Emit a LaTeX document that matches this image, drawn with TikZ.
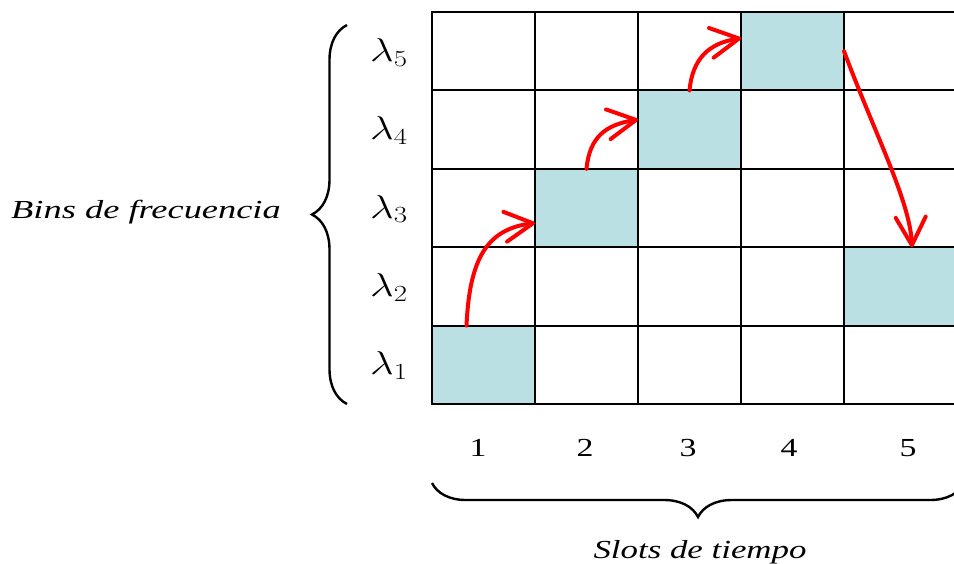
\RequirePackage{fix-cm}
\documentclass[tikz,border=0pt]{standalone}
\usepackage{fontspec}
\setmainfont{Liberation Serif}
\usetikzlibrary{arrows.meta,decorations.pathreplacing}
\definecolor{cellblue}{HTML}{BBE0E3}
\definecolor{arrred}{HTML}{FF0000}
\begin{document}
\begin{tikzpicture}[x=1pt,y=-1pt,
  cell/.style={draw=black,line width=2pt,minimum height=78.4pt,inner sep=0pt,outer sep=0pt,anchor=north west},
  hop/.style={draw=arrred,line width=4pt,line cap=round,-{Straight Barb[length=28pt,width=30pt,round]}},
  lam/.style={anchor=base west,inner sep=0pt,font=\fontsize{33}{38}\selectfont},
  num/.style={anchor=base,inner sep=0pt,font=\fontsize{26}{30}\selectfont},
  axlabel/.style={anchor=base,inner sep=0pt,font=\fontsize{26}{30}\selectfont\itshape},
  bracestyle/.style={draw=black,line width=2.4pt,decorate}]
\useasboundingbox (0,0) rectangle (954,563);
\clip (0,0) rectangle (954,563);
% grid cells
\foreach \c/\h in {1/1,2/3,3/4,4/5,5/2}{
  \foreach \r in {1,...,5}{
    \ifnum\r=\h \def\cf{cellblue}\else\def\cf{none}\fi
    \ifnum\c=5 \def\cw{130pt}\else\def\cw{103pt}\fi
    \node[cell,fill=\cf,minimum width=\cw] (c\c\r) at ({432+(\c-1)*103},{404-\r*78.4}) {};
  }
}
% frequency labels
\foreach \r in {1,...,5}{
  \node[lam] (l\r) at (370,{404-(\r-0.5)*78.4+10}) {\scalebox{1.25}[1]{$\lambda_{\r}$}};
}
% slot numbers
\foreach \c/\x in {1/478,2/585,3/688,4/789,5/908}{
  \node[num] (n\c) at (\x,456) {\scalebox{1.3}[1]{\c}};
}
% axis labels
\node[axlabel] (bins) at (146,218) {\scalebox{1.4}[1]{Bins de frecuencia}};
\node[axlabel] (slots) at (700,558) {\scalebox{1.34}[1]{Slots de tiempo}};
% braces
\coordinate (lbB) at (347,404);
\coordinate (lbT) at (347,25);
\draw[bracestyle,decoration={brace,amplitude=35pt}] (lbB) -- (lbT);
\coordinate (bbR) at (964,483);
\coordinate (bbL) at (432,483);
\draw[bracestyle,decoration={brace,amplitude=34pt}] (bbR) -- (bbL);
% hopping arrows
\draw[hop] ([xshift=-17pt]c11.north) .. controls +(3,-67) and +(-48,6) .. ([yshift=-15pt]c23.west);
\draw[hop] (c23.north) .. controls +(3,-32) and +(-32,5) .. ([yshift=10pt]c34.west);
\draw[hop] (c34.north) .. controls +(3,-32) and +(-32,5) .. ([yshift=13pt]c45.west);
\draw[hop] (c45.east) .. controls +(31,83) and +(-2,-46) .. ([xshift=68pt]c52.north west);
\end{tikzpicture}
\end{document}
